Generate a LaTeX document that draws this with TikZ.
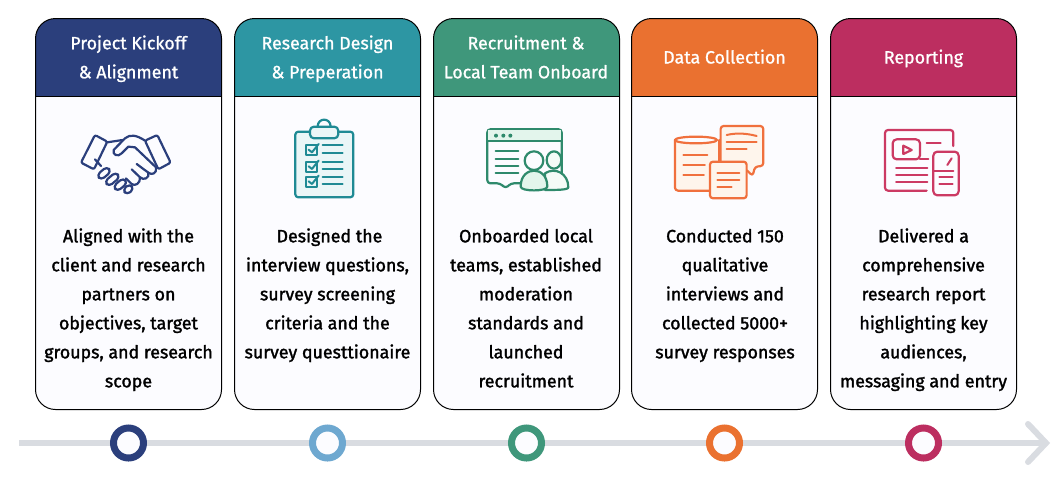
\documentclass[tikz,border=0pt]{standalone}
\usepackage{fontspec}
\setmainfont{Fira Sans}
\newfontfamily\bodyfont{Fira Sans}[FakeBold=1.6]
\newfontfamily\headfont{Fira Sans}[FakeBold=1.0]
\definecolor{cNavy}{HTML}{2B3F7C}
\definecolor{cTeal}{HTML}{2D96A3}
\definecolor{cGreen}{HTML}{3F977B}
\definecolor{cOrange}{HTML}{EA7130}
\definecolor{cRose}{HTML}{BC2E60}
\definecolor{cSky}{HTML}{6EA8D0}
\definecolor{cPanel}{HTML}{FCFCFF}
\definecolor{cRail}{HTML}{D9DCE1}
\definecolor{iTeal}{HTML}{1F8A94}
\definecolor{iTealF}{HTML}{EAF6F7}
\definecolor{iGreen}{HTML}{2F8A6C}
\definecolor{iGreenF}{HTML}{E3F5EC}
\definecolor{iOrange}{HTML}{F0703D}
\definecolor{iOrangeF}{HTML}{FEF5EC}
\definecolor{iRose}{HTML}{CC3A63}
\tikzset{
  cardbody/.style={rectangle,rounded corners=20pt,fill=cPanel,minimum width=186pt,minimum height=391pt,inner sep=0pt,outer sep=0pt},
  cardline/.style={draw=black,line width=1pt},
  headtext/.style={text=white,align=center,anchor=north,font=\headfont\fontsize{17.8}{29}\selectfont,inner sep=0pt},
  bodytext/.style={text=black,align=center,anchor=north,font=\bodyfont\fontsize{17.8}{29}\selectfont,inner sep=0pt},
  ring/.style={circle,minimum size=30pt,inner sep=0pt,line width=7pt,fill=cPanel},
  rail/.style={draw=cRail,line width=6pt},
  icon/.style={line width=2.2pt,line join=round,line cap=round},
  thin icon/.style={line width=2pt,line join=round,line cap=round}
}
\begin{document}
\begin{tikzpicture}[x=1pt,y=-1pt]
\useasboundingbox (0,0) rectangle (1064,477);
% rail
\coordinate (railstart) at (19,443);
\coordinate (railtip) at (1046,443);
\coordinate (headup) at (1028,424);
\coordinate (headdown) at (1028,462);
\draw[rail] (railstart) -- (railtip);
\draw[rail,line cap=round,line join=miter] (headup) -- (railtip) -- (headdown);
% cards
\foreach \i/\xc/\col/\rc in {1/128.5/cNavy/cNavy,2/327.5/cTeal/cSky,3/526.5/cGreen/cGreen,4/724.5/cOrange/cOrange,5/923.5/cRose/cRose}{
  \node[cardbody] (card\i) at (\xc,214) {};
  \begin{scope}
    \clip[rounded corners=20pt] (card\i.south west) rectangle (card\i.north east);
    \fill[\col] (card\i.north west) rectangle ([yshift=-78pt]card\i.north east);
  \end{scope}
  \draw[cardline,rounded corners=20pt] (card\i.south west) rectangle (card\i.north east);
  \draw[cardline] ([yshift=-78pt]card\i.north west) -- ([yshift=-78pt]card\i.north east);
  \node[ring,draw=\rc] (dot\i) at (\xc,443) {};
}
% headers
\node[headtext] (h1) at (128.5,28.8) {\strut Project Kickoff\\\& Alignment};
\node[headtext] (h2) at (327.5,28.8) {\strut Research Design\\\& Preperation};
\node[headtext] (h3) at (526,28.8) {\strut Recruitment \&\\Local Team Onboard};
\node[headtext] (h4) at (724.5,43) {\strut Data Collection};
\node[headtext] (h5) at (923.5,43) {\strut Reporting};
% body text
\node[bodytext] (t1) at (128.5,221.8) {\strut Aligned with the\\client and research\\partners on\\objectives, target\\groups, and research\\scope};
\node[bodytext] (t2) at (327.5,221.8) {\strut\hspace*{4pt}Designed the\\interview questions,\\survey screening\\criteria and the\\survey questtionaire};
\node[bodytext] (t3) at (526,221.8) {\strut Onboarded local\\teams, established\\moderation\\standards and\\launched\\recruitment};
\node[bodytext] (t4) at (725,221.8) {\strut Conducted 150\\qualitative\\interviews and\\collected 5000+\\survey responses};
\node[bodytext] (t5) at (923.5,221.8) {\strut Delivered a\\comprehensive\\research report\\highlighting key\\audiences,\\messaging and entry};
% handshake
\begin{scope}[shift={(20pt,-10pt)},x=0.3333pt,y=-0.3333pt,icon,draw=cNavy]
  \foreach \cx/\cy/\ln in {252/490/20,277/508/22,301/524/20,325/538/14}{
    \draw[rotate around={40:(\cx,\cy)},rounded corners=4pt] (\cx-\ln,\cy-10) rectangle (\cx+\ln,\cy+10);
  }
  \draw[rounded corners=2pt] (225,375) -- (262,395) -- (222,478) -- (183,458) -- cycle;
  \draw[rounded corners=2pt] (412,375) -- (375,392) -- (415,478) -- (452,458) -- cycle;
  \draw (262,397) -- (308,390);
  \draw (375,392) .. controls (350,375) and (330,372) .. (315,385) -- (281,420) .. controls (276,435) and (295,442) .. (305,430) -- (325,410) -- (345,412) -- (408,472) .. controls (412,490) and (395,497) .. (385,488) -- (350,462);
  \draw (385,488) .. controls (390,505) and (370,512) .. (360,502) -- (335,478);
  \draw (360,502) .. controls (362,520) and (345,530) .. (335,522) -- (318,505);
  \draw (225,448) -- (243,468);
\end{scope}
% clipboard
\begin{scope}[shift={(20pt,-10pt)},x=0.3333pt,y=-0.3333pt,icon,draw=iTeal]
  \draw[fill=iTealF,rounded corners=3pt] (826,365) rectangle (1000,562);
  \draw (893,350) .. controls (893,322) and (932,322) .. (932,350);
  \draw[fill=iTealF,rounded corners=4pt] (870,350) rectangle (955,385);
  \foreach \yy in {405,455,500}{
    \draw[thin icon] (858,\yy) rectangle (890,\yy+30);
    \draw[thin icon] (866,\yy+14) -- (876,\yy+22) -- (896,\yy-3);
    \draw[thin icon] (908,\yy) -- (968,\yy);
    \draw[thin icon] (908,\yy+23) -- (968,\yy+23);
  }
\end{scope}
% onboarding window
\begin{scope}[shift={(430pt,-10pt)},x=0.3333pt,y=-0.3333pt,icon,draw=iGreen]
  \draw[fill=cPanel,rounded corners=3pt] (172,358) -- (395,358) -- (395,520) -- (243,520) -- (227,535) -- (210,520) -- (172,520) -- cycle;
  \fill[iGreenF] (174,360) rectangle (393,393);
  \draw (172,393) -- (395,393);
  \foreach \xx in {198,220,241}{\fill[iGreen] (\xx,377) circle (6);}
  \foreach \yy in {424,446,468,490}{\draw[thin icon] (197,\yy) -- (265,\yy);}
  \draw[fill=iGreenF!40] (372,450) ellipse (22 and 26);
  \draw[fill=iGreenF!40] (345,490) .. controls (375,470) and (415,490) .. (415,532) .. controls (415,540) and (380,540) .. (345,540) -- cycle;
  \draw[fill=cPanel] (312,452) circle (28);
  \draw[fill=iGreenF] (272,530) .. controls (272,495) and (295,482) .. (312,482) .. controls (330,482) and (352,495) .. (352,530) .. controls (352,545) and (272,545) .. (272,530) -- cycle;
\end{scope}
% data documents
\begin{scope}[shift={(430pt,-10pt)},x=0.3333pt,y=-0.3333pt,icon,draw=iOrange]
  \draw[fill=iOrangeF,rounded corners=3pt] (735,390) -- (735,542) -- (868,542) -- (868,390);
  \draw[fill=cPanel] (798,390) ellipse (63 and 10);
  \draw[thin icon] (760,434) -- (832,434);
  \draw[thin icon] (760,465) -- (825,465);
  \draw[thin icon] (760,494) -- (822,494);
  \draw[fill=iOrangeF,rounded corners=3pt] (872,348) -- (1000,348) -- (1000,468) -- (975,470) -- (968,498) -- (948,478) -- (872,468) -- cycle;
  \draw[thin icon] (890,375) .. controls (920,368) and (950,370) .. (980,378);
  \draw[thin icon] (890,395) -- (980,395);
  \draw[thin icon] (890,417) -- (950,417);
  \draw[fill=iOrangeF,rounded corners=3pt] (840,455) rectangle (950,565);
  \draw[thin icon] (862,488) -- (928,488);
  \draw[thin icon] (862,510) -- (928,510);
  \draw[thin icon] (862,531) -- (905,531);
\end{scope}
% report
\begin{scope}[shift={(820pt,-10pt)},x=0.3333pt,y=-0.3333pt,icon,draw=iRose]
  \draw[rounded corners=3pt] (400,408) -- (400,360) -- (195,360) -- (195,542) -- (320,542);
  \draw[rounded corners=4pt] (218,388) rectangle (300,448);
  \draw (250,407) -- (275,420) -- (250,432) -- cycle;
  \draw (320,400) -- (362,400);
  \draw (300,446) -- (325,446);
  \foreach \yy in {475,495,516}{\draw[thin icon] (228,\yy) -- (322,\yy);}
  \draw[rounded corners=4pt] (340,425) rectangle (416,556);
  \draw[thin icon] (340,482) -- (400,482);
  \draw[thin icon] (382,465) -- (395,445);
  \draw[thin icon] (358,502) -- (398,502);
  \draw[thin icon] (358,522) -- (398,522);
\end{scope}
\end{tikzpicture}
\end{document}
